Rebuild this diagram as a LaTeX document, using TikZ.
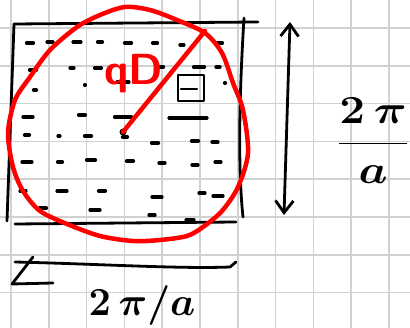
\documentclass[tikz,border=0pt]{standalone}
\usepackage{amsmath}
\usetikzlibrary{arrows.meta}
\begin{document}
\begin{tikzpicture}[x=1pt,y=-1pt,
  gridline/.style={draw=black!18,line width=1.6pt},
  ink/.style={draw=black,line width=2.8pt,line cap=round,line join=round},
  dsh/.style={draw=black,line width=3.2pt,line cap=round},
  redink/.style={draw=red,line width=4.5pt,line cap=round,line join=round},
  lbl/.style={inner sep=0pt,font=\Huge\boldmath,scale=1.6}]
\fill[white] (0,0) rectangle (410,328);
\useasboundingbox (0,0) rectangle (410,328);
% grid paper
\foreach \i in {0,...,10} \draw[gridline] ({11+37.8*\i},0) -- ({11+37.8*\i},328);
\foreach \j in {0,...,7} \draw[gridline] (0,{28+37.8*\j}) -- (410,{28+37.8*\j});
% lattice dashes
\foreach \x/\y/\l in {30/43/7,50/42/6,77/42/8,100/42/5,128/43/7,155/43/5,182/45/4,220/43/5,
  33/70/7,72/68/4,98/68/7,160/67/7,199/67/11,218/67/4,
  35/90/3,85/85/1,123/82/12,225/83/1,
  28/117/10,82/115/7,123/117/17,188/118/38,
  27/135/5,59/136/2,88/136/7,125/137/5,155/143/7,195/141/7,215/142/6,
  27/162/10,60/162/5,91/160/9,130/161/7,162/163/6,195/165/6,218/162/6,
  23/191/6,62/191/10,102/191/7,157/197/10,202/193/6,218/196/10,
  43/208/7,95/210/10,152/215/6,190/220/8}
  \draw[dsh] ({\x-\l/2},\y) -- ({\x+\l/2},\y);
% square (Brillouin zone)
\draw[ink] (14,24) -- (258,22);
\draw[ink] (14,24) -- (7,221);
\draw[ink] (244,18) .. controls (239,100) and (238,170) .. (243,217);
\draw[ink] (15,224) -- (236,222);
% small box
\draw[ink,line width=2.2pt] (178,75) rectangle (204,101);
\draw[ink,line width=2.2pt] (181,89) -- (197,89);
% vertical double arrow
\coordinate (vt) at (290,22);
\coordinate (vb) at (284,215);
\draw[ink,{Straight Barb[length=12pt,width=18pt]}-{Straight Barb[length=12pt,width=18pt]}] (vt) -- (vb);
% horizontal arrow
\coordinate (hl) at (15,262);
\coordinate (hr) at (236,262);
\draw[ink] (hl) .. controls (100,264) and (180,269) .. (230,267) -- (hr);
\draw[ink] (33,257) -- (12,284) -- (53,283);
% red Debye circle
\draw[redink] plot[smooth cycle] coordinates {(125,7) (150,10) (177,20) (205,33) (222,53) (233,83) (243,110) (248,153) (238,187) (222,211) (203,227) (187,236) (160,240) (133,241) (100,236) (67,224) (40,211) (23,191) (13,167) (8,133) (15,100) (30,77) (50,50) (77,27) (100,15)};
\coordinate (rim) at (205,31);
\node[circle,fill=black,inner sep=0pt,minimum size=7pt] (ctr) at (123,132) {};
\draw[redink] (ctr.center) -- (rim);
\node[red,inner sep=0pt,font=\Huge\sffamily\bfseries,scale=1.75] (qd) at (134,74) {qD};
% labels
\node[lbl,xscale=1.15] (lr) at (373,141) {$\dfrac{2\,\pi}{a}$};
\node[lbl] (lb) at (142,306) {$2\,\pi/a$};
\end{tikzpicture}
\end{document}
